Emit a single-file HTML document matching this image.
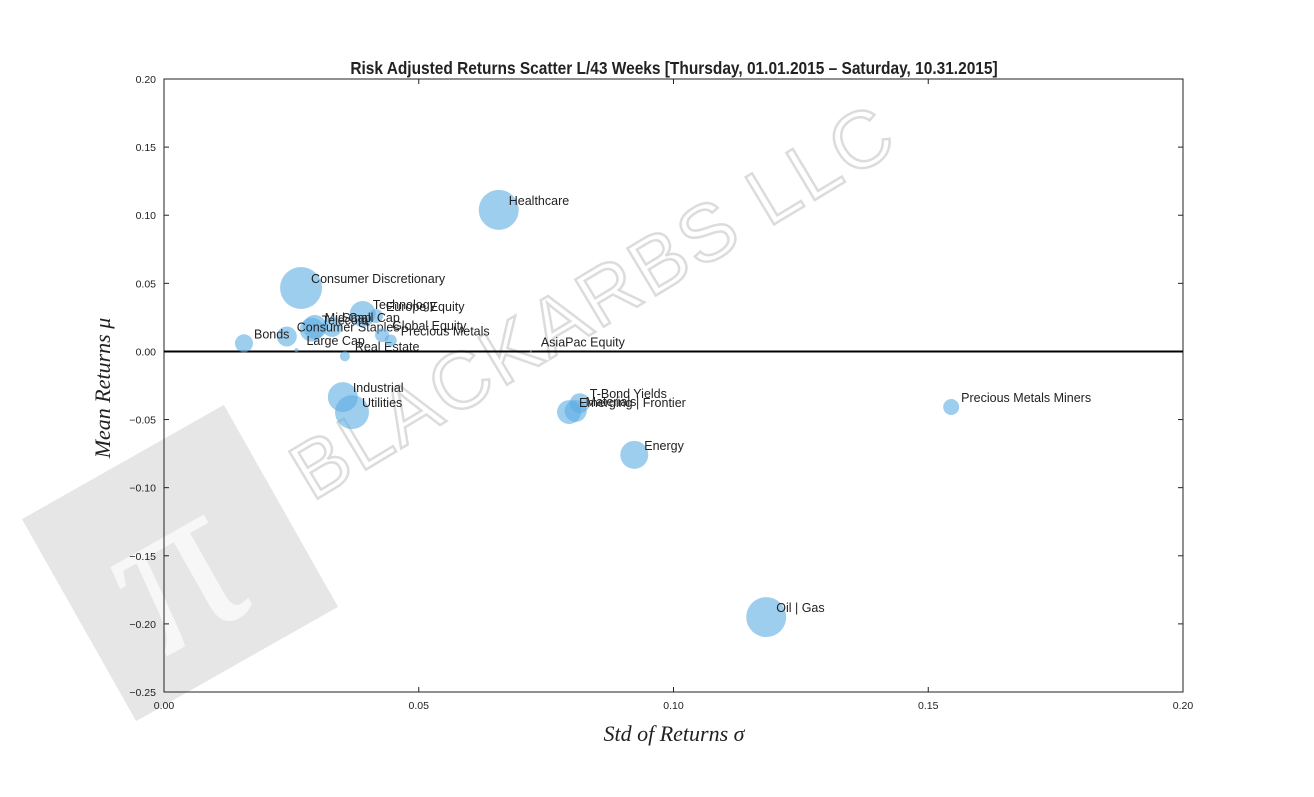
<!DOCTYPE html>
<html><head><meta charset="utf-8"><style>
body{margin:0;background:#fff;}
svg text{font-family:"Liberation Sans",sans-serif;}
svg text.serif{font-family:"Liberation Serif",serif;}
</style></head><body>
<svg id="chart" width="1314" height="792" xmlns="http://www.w3.org/2000/svg">
<g>
<g transform="translate(180,563) rotate(-29.5)">
<rect x="-116" y="-116" width="232" height="232" fill="#e6e6e6"/>
<text class="serif" x="-10" y="75" font-size="230" fill="#f7f7f7" text-anchor="middle">π</text>
</g>
<text transform="translate(312,502) rotate(-31)" font-size="80" fill="none" stroke="#dcdcdc" stroke-width="2.5" letter-spacing="3">BLACKARBS LLC</text>
</g>
<text x="674" y="74" text-anchor="middle" font-size="18" font-weight="bold" fill="#222" transform="translate(674,0) scale(0.86,1) translate(-674,0)">Risk Adjusted Returns Scatter L/43 Weeks [Thursday, 01.01.2015 – Saturday, 10.31.2015]</text>
<g id="axes"></g>
<g id="points"></g>
<text class="serif" x="674" y="741" text-anchor="middle" font-size="22" font-style="italic" fill="#222">Std of Returns  σ</text>
<text class="serif" transform="translate(110,388) rotate(-90)" text-anchor="middle" font-size="22" font-style="italic" fill="#222">Mean Returns  μ</text>
</svg>
<script>
const names=["Healthcare","Consumer Discretionary","Technology","Europe Equity","Mid Cap","Small Cap","Telecom","Consumer Staples","Bonds","Large Cap","Real Estate","Global Equity","Precious Metals","AsiaPac Equity","Industrial","Utilities","T-Bond Yields","Materials","Emerging | Frontier","Energy","Oil | Gas","Precious Metals Miners"];
const stdVals=[0.0657,0.0269,0.039,0.0416,0.0296,0.033,0.0290,0.0241,0.0157,0.026,0.0355,0.0428,0.0445,0.072,0.0351,0.0369,0.0816,0.0808,0.0795,0.0923,0.1182,0.1545];
const meanVals=[0.1039,0.0466,0.0275,0.026,0.018,0.018,0.016,0.011,0.006,0.001,-0.0035,0.012,0.008,0.0,-0.0335,-0.0445,-0.038,-0.0437,-0.0445,-0.0759,-0.195,-0.0408];
const sizes=[20,21,13,7,12,10,12,10,9,2,5,7,6,1,15,17,10,11,12,14,20,8];
const xTicks=[0,0.05,0.10,0.15,0.20];
const xTickLabels=["0.00","0.05","0.10","0.15","0.20"];
const yTicks=[0.20,0.15,0.10,0.05,0,-0.05,-0.10,-0.15,-0.20,-0.25];
const yTickLabels=["0.20","0.15","0.10","0.05","0.00","−0.05","−0.10","−0.15","−0.20","−0.25"];
const L=164,R=1183,T=79,B=692;
const xs=v=>L+(v-0)/(0.2)*(R-L);
const ys=v=>T+(0.2-v)/(0.45)*(B-T);
const NS="http://www.w3.org/2000/svg";
function mk(tag,attrs,parent){const e=document.createElementNS(NS,tag);for(const k in attrs)e.setAttribute(k,attrs[k]);parent.appendChild(e);return e;}
const ax=document.getElementById('axes');
const frame=mk('rect',{x:L,y:T,width:R-L,height:B-T,fill:'none',stroke:'#222','stroke-width':1},ax);


xTicks.forEach((t,i)=>{const x=xs(t);
mk('line',{x1:x,x2:x,y1:B,y2:B-5,stroke:'#222'},ax);mk('line',{x1:x,x2:x,y1:T,y2:T+5,stroke:'#222'},ax);
const tx=mk('text',{x:x,y:B+17,'text-anchor':'middle','font-size':10.5,fill:'#222'},ax);tx.textContent=xTickLabels[i];

});
yTicks.forEach((t,i)=>{const y=ys(t);
mk('line',{x1:L,x2:L+5,y1:y,y2:y,stroke:'#222'},ax);mk('line',{x1:R,x2:R-5,y1:y,y2:y,stroke:'#222'},ax);
const tx=mk('text',{x:L-8,y:y+4,'text-anchor':'end','font-size':10.5,fill:'#222'},ax);tx.textContent=yTickLabels[i];

});
const zl=mk('line',{x1:L,x2:R,y1:ys(0),y2:ys(0),stroke:'#000','stroke-width':2},ax);


const pg=document.getElementById('points');
names.forEach((n,i)=>{const cx=xs(stdVals[i]),cy=ys(meanVals[i]);
const c=mk('circle',{cx:cx,cy:cy,r:sizes[i],fill:'#5dade2','fill-opacity':0.6},pg);


const t=mk('text',{x:cx+10,y:cy-5,'font-size':12.5,fill:'#222'},pg);t.textContent=n;

});
</script>
</body></html>
